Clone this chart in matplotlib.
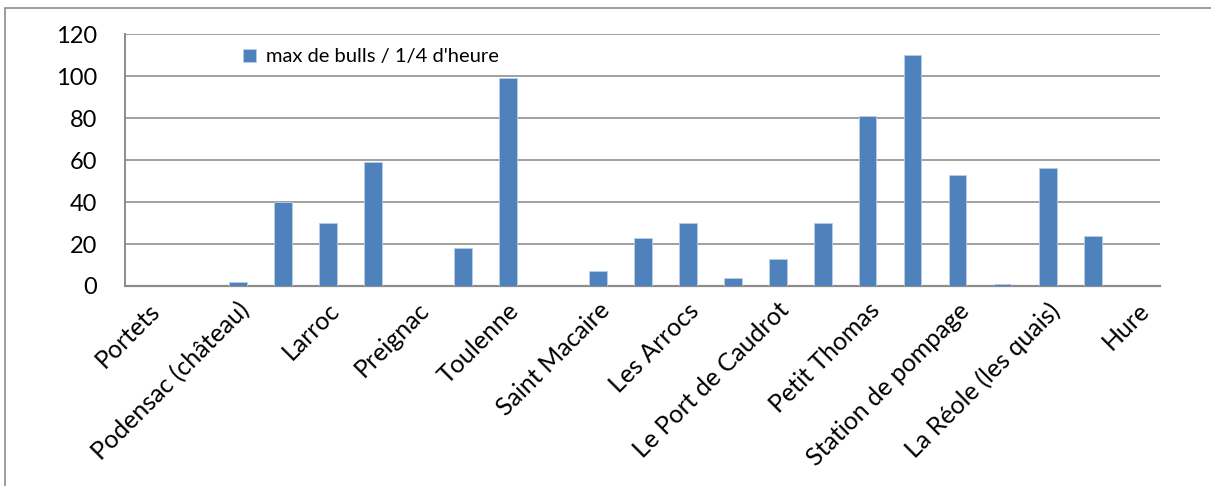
import matplotlib
matplotlib.use("Agg")
import matplotlib.pyplot as plt
from matplotlib.patches import Rectangle

plt.rcParams['font.family'] = ['Lato', 'DejaVu Sans']

# Sampling stations along the river; only every other station is labelled
station_labels = ["Portets", "Podensac (château)", "Larroc", "Preignac", "Toulenne",
                  "Saint Macaire", "Les Arrocs", "Le Port de Caudrot", "Petit Thomas",
                  "Station de pompage", "La Réole (les quais)", "Hure"]
max_bulls = [0, 0, 2, 40, 30, 59, 0, 18, 99, 0, 7, 23, 30, 4, 13, 30, 81, 110, 53, 1, 56, 24, 0]
series_name = "max de bulls / 1/4 d'heure"
y_ticks = [0, 20, 40, 60, 80, 100, 120]

fig = plt.figure(figsize=(12.11, 4.86), dpi=100)
ax = fig.add_axes([125 / 1211, 1 - 286 / 486, (1160 - 125) / 1211, (286 - 34) / 486])

positions = list(range(len(max_bulls)))
bars = ax.bar(positions, max_bulls, width=0.4, color="#4F81BD",
              edgecolor="#B9CDE5", linewidth=0.6, label=series_name, zorder=3)

ax.set_xlim(-0.5, len(max_bulls) - 0.5)
ax.set_ylim(0, 120)
ax.set_yticks(y_ticks)
ax.set_yticklabels([str(v) for v in y_ticks], fontsize=17)
ax.yaxis.grid(True, color="#A0A0A0", linewidth=1.4, zorder=0)
ax.set_axisbelow(True)

ax.set_xticks(positions[::2])
ax.set_xticklabels(station_labels, rotation=45, ha="right", va="top",
                   rotation_mode="anchor", fontsize=18)
ax.tick_params(axis="x", length=0, pad=9)
ax.tick_params(axis="y", length=0, pad=20)

for side in ("top", "right"):
    ax.spines[side].set_visible(False)
ax.spines["left"].set_color("#8C8C8C")
ax.spines["left"].set_linewidth(1.4)
ax.spines["bottom"].set_color("#8C8C8C")
ax.spines["bottom"].set_linewidth(1.6)

leg = ax.legend(loc="upper left", bbox_to_anchor=(0.106, 0.975), frameon=False,
                fontsize=14.5, handlelength=0.65, handleheight=0.65, handletextpad=0.5,
                borderaxespad=0)

# Chart frame
fig.add_artist(Rectangle((5 / 1211, -0.05), 1.2, (486 - 8) / 486 + 0.05,
                         transform=fig.transFigure, fill=False,
                         edgecolor="#8C8C8C", linewidth=1.2))

fig.savefig("out.png", dpi=100)
